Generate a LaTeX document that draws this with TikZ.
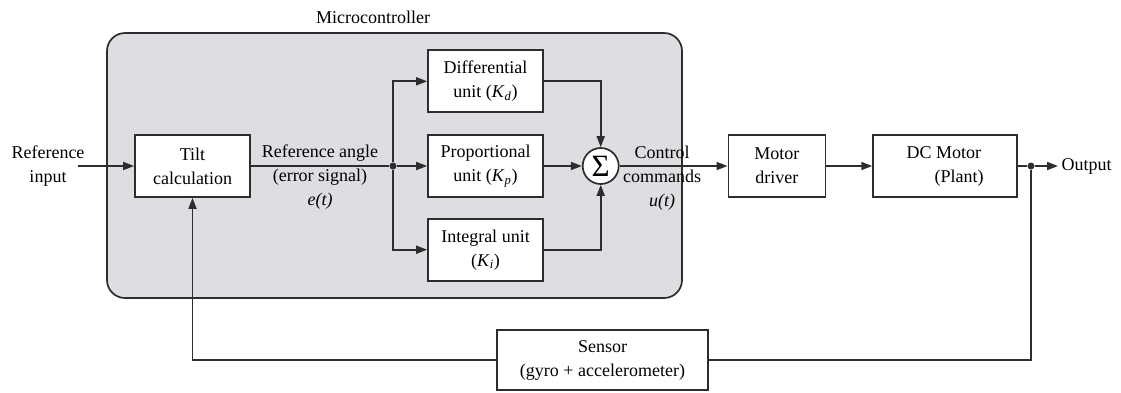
\documentclass[tikz,border=0pt]{standalone}
\usepackage{fontspec}
\setmainfont{Liberation Serif}
\usetikzlibrary{arrows.meta,positioning}
\definecolor{PanelGray}{RGB}{221,222,225}
\definecolor{LineGray}{RGB}{45,45,45}

\begin{document}
\begin{tikzpicture}[x=1pt,y=-1pt,font=\fontsize{18}{24}\selectfont,
  block/.style={draw=LineGray,fill=white,line width=1.7pt,minimum width=115pt,minimum height=62pt,align=center,inner sep=0pt},
  sig/.style={draw=LineGray,line width=1.7pt},
  dot/.style={circle,fill=LineGray,inner sep=0pt,minimum size=7pt},
  >={Triangle[length=11pt,width=8pt]}]
\useasboundingbox (0,0) rectangle (1121,392);
% microcontroller panel
\draw[LineGray,line width=1.7pt,fill=PanelGray,rounded corners=18pt] (107,33) rectangle (682,298);
\node (mcu) at (373,17) {Microcontroller};
% blocks
\node[block] (tilt) at (192.5,166) {Tilt\\calculation};
\node[block] (prop) at (485.5,166) {Proportional\\unit (\textit{K}\textsubscript{\textit{p}})};
\node[block,above=21pt of prop] (diff) {Differential\\unit (\textit{K}\textsubscript{\textit{d}})};
\node[block,below=20pt of prop] (integ) {Integral unit\\(\textit{K}\textsubscript{\textit{i}})};
\node[circle,draw=LineGray,fill=white,line width=1.7pt,minimum size=36pt,inner sep=0pt,right=38pt of prop,font=\fontsize{31}{31}\selectfont] (sum) {Σ};
\node[block,minimum width=97pt,right=108pt of sum] (drv) {Motor\\driver};
\node[block,minimum width=144pt,right=46pt of drv,align=left] (dc) {DC Motor\hspace{30pt}\\\hspace{1.55em}(Plant)};
\node[block,minimum width=211pt,minimum height=60pt] (sensor) at (602.5,360) {Sensor\\(gyro + accelerometer)};
% signal labels
\node[align=center] (refin) at (48,166.5) {Reference\\input};
\node[align=center] (eang) at (320,177) {Reference angle\\(error signal)\\\textit{e(t)}};
\node[align=center] (ctrl) at (662,178) {Control\\commands\\\textit{u(t)}};
\node[anchor=west] (out) at (1058,166) {Output};
% junctions
\coordinate (rin) at (78,166);
\node[dot] (j1) at (393,166) {};
\node[dot] (j2) at (1031,166) {};
% connectors
\draw[sig,->] (rin) -- (tilt);
\draw[sig] (tilt) -- (j1);
\draw[sig,->] (j1) -- (prop);
\draw[sig,->] (j1) |- (diff);
\draw[sig,->] (j1) |- (integ);
\draw[sig,->] (diff) -| (sum);
\draw[sig,->] (integ) -| (sum);
\draw[sig,->] (prop) -- (sum);
\draw[sig,->] (sum) -- (drv);
\draw[sig,->] (drv) -- (dc);
\draw[sig] (dc) -- (j2);
\draw[sig,->] (j2) -- (out);
\draw[sig] (j2) |- (sensor);
\draw[sig,->] (sensor) -| (tilt);
\end{tikzpicture}
\end{document}
